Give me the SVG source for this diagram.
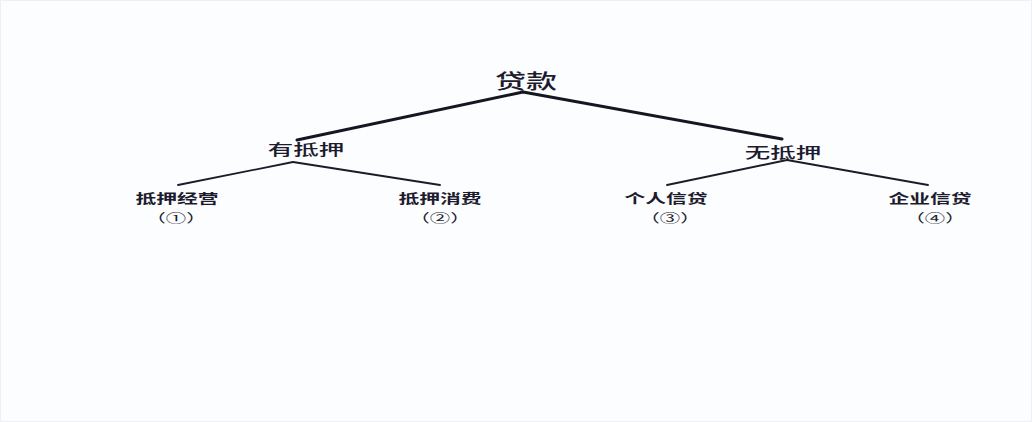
<svg xmlns="http://www.w3.org/2000/svg" width="1032" height="422" viewBox="0 0 1032 422">
<style>
.t{font-family:"Noto Sans CJK SC","Noto Sans CJK JP",sans-serif;fill:#1c1c2e;text-anchor:middle}
.l1{font-size:20px;font-weight:500}
.l2{font-size:15px;font-weight:500}
.l3{font-size:13px;font-weight:bold}
.l4{font-size:12px}
.e1{stroke:#161622;stroke-width:3;fill:none;stroke-linecap:round}
.e2{stroke:#1c1c28;stroke-width:1.8;fill:none;stroke-linecap:round}
</style>
<rect x="0.5" y="0.5" width="1031" height="421" fill="#fcfdff" stroke="#eef0f4"/>
<g id="edges">
<path class="e1" d="M523 92 L297 140"/>
<path class="e1" d="M523 92 L782 139"/>
<path class="e2" d="M293 162 L178 185"/>
<path class="e2" d="M293 162 L440 185"/>
<path class="e2" d="M787 160 L667 185"/>
<path class="e2" d="M787 160 L928 185"/>
</g>
<g id="root"><text class="t l1" transform="translate(526,89) scale(1.55,1)">贷款</text></g>
<g id="secured"><text class="t l2" transform="translate(306,155) scale(1.7,1)">有抵押</text></g>
<g id="unsecured"><text class="t l2" transform="translate(783,158) scale(1.7,1)">无抵押</text></g>
<g id="n1"><text class="t l3" transform="translate(177,203) scale(1.6,1)">抵押经营</text><text class="t l4" transform="translate(176,223) scale(1.7,1)">（①）</text></g>
<g id="n2"><text class="t l3" transform="translate(440,203) scale(1.6,1)">抵押消费</text><text class="t l4" transform="translate(440,223) scale(1.7,1)">（②）</text></g>
<g id="n3"><text class="t l3" transform="translate(666,203) scale(1.6,1)">个人信贷</text><text class="t l4" transform="translate(670,223) scale(1.7,1)">（③）</text></g>
<g id="n4"><text class="t l3" transform="translate(930,203) scale(1.6,1)">企业信贷</text><text class="t l4" transform="translate(935,223) scale(1.7,1)">（④）</text></g>
</svg>
